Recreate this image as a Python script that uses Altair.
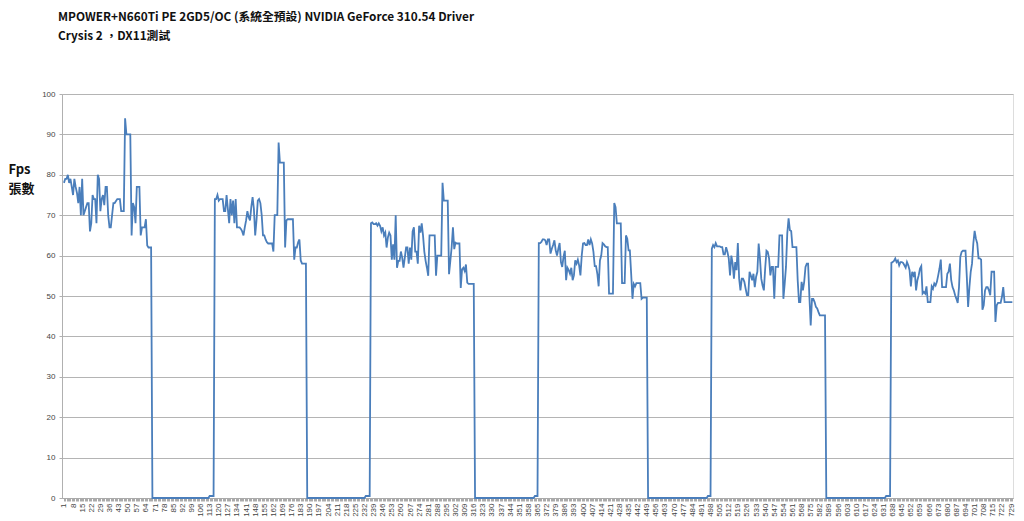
import altair as alt
import pandas as pd

title_lines = ["MPOWER+N660Ti PE 2GD5/OC (系統全預設) NVIDIA GeForce 310.54 Driver",
               "Crysis 2 ，DX11測試"]
y_title = ["Fps", "張數"]

seg_a = [78, 79, 79, 80, 78, 79, 77, 75, 79, 77, 75.5, 73, 77, 70, 79, 70, 71, 72, 73, 73,
         66, 68, 75, 74, 74, 68, 80, 79, 71, 74, 75, 72.5, 77, 77, 70, 67, 67, 70, 73, 73,
         73.5, 74, 74, 74, 71, 71, 71, 94, 90, 90, 90, 90, 65, 73, 72, 68, 77, 77, 77, 65,
         67, 67, 67, 69, 62.5, 62, 62, 62]
gap_1 = [0, 0, 0, 0, 0, 0, 0, 0, 0, 0, 0, 0, 0, 0, 0, 0, 0, 0, 0, 0, 0, 0,
         0, 0, 0, 0, 0, 0, 0, 0, 0, 0, 0, 0, 0, 0, 0, 0, 0, 0, 0, 0, 0, 0,
         0.5, 0.5, 0.5, 0.5]
seg_b = [74, 74, 75, 73.6, 74, 74, 74, 71, 71, 75, 71.5, 68, 74, 70, 73.6, 68, 74, 67, 67, 67,
         66.6, 66, 65, 67, 68.7, 71, 69.5, 68.7, 72, 74.5, 71.6, 65, 68.7, 73.6, 74, 73, 70, 65,
         65, 64, 63.3, 63, 63, 63, 63, 61, 70, 70, 70, 88, 83, 83, 83, 83, 62, 68.7, 69, 69, 69,
         69, 69, 59, 62, 62, 63.3, 64, 58.8, 58, 58, 58, 58]
gap_2 = [0, 0, 0, 0, 0, 0, 0, 0, 0, 0, 0, 0, 0, 0, 0, 0, 0, 0, 0, 0, 0, 0, 0,
         0, 0, 0, 0, 0, 0, 0, 0, 0, 0, 0, 0, 0, 0, 0, 0, 0, 0, 0, 0, 0, 0,
         0.5, 0.5, 0.5, 0.5]
seg_c = [68, 68.2, 67.8, 67.8, 68, 67.4, 68, 67.4, 66, 67, 65, 65.7, 62, 64.5, 65.7, 65, 59,
         62.8, 59, 70, 57, 58.7, 58.7, 61, 59.5, 57, 59.5, 62, 62, 58, 62, 59, 66, 67, 61, 61,
         58, 67.4, 65.7, 68, 65, 61, 58.7, 57, 55, 65, 65, 65, 65, 65, 55, 60, 60, 60, 60, 78,
         73.6, 73.6, 73.6, 73.6, 55.4, 58.7, 62, 67, 61.6, 63.2, 63, 63, 63, 52, 56.6, 57,
         56.2, 57.8, 53.3, 53, 53, 53, 53, 53]
gap_3 = [0, 0, 0, 0, 0, 0, 0, 0, 0, 0, 0, 0, 0, 0, 0, 0, 0, 0, 0, 0, 0, 0, 0,
         0, 0, 0, 0, 0, 0, 0, 0, 0, 0, 0, 0, 0, 0, 0, 0, 0, 0, 0, 0, 0, 0, 0,
         0.5, 0.5, 0.5]
seg_d = [63.1, 63.1, 63.4, 64, 64, 63.8, 62.6, 64, 64, 60.5, 61.7, 62.6, 63.8, 61.3, 60, 61.7,
         63.1, 58.4, 57.2, 59.7, 61.2, 53.9, 57, 56.4, 55.5, 57, 53.9, 55.1, 58.8, 58, 59, 57.6,
         55.1, 60, 63, 63.1, 62.6, 62.6, 64, 62.6, 64, 63, 60.9, 57.4, 57.4, 55.5, 52.4, 58.8,
         60, 63.1, 62.8, 62.3, 62.1, 62.1, 50.6, 50.6, 50.6, 50.6, 73, 72, 68, 68, 68, 68, 53.2,
         53.2, 53.2, 65, 64.2, 61.3, 61.3, 55.5, 49.3, 53, 52.4, 53.2, 53.2, 53.2, 53.2, 49.3,
         49.6, 49.6, 49.6, 49.6]
gap_4 = [0, 0, 0, 0, 0, 0, 0, 0, 0, 0, 0, 0, 0, 0, 0, 0, 0, 0, 0, 0, 0, 0, 0,
         0, 0, 0, 0, 0, 0, 0, 0, 0, 0, 0, 0, 0, 0, 0, 0, 0, 0, 0, 0, 0, 0, 0,
         0.5, 0.5, 0.5]
seg_e = [61.7, 62.6, 62.1, 63.1, 62.3, 62.3, 62.3, 62.1, 62.1, 60.3, 60.3, 62.1, 60.9, 59.3,
         55.1, 60, 58, 54.3, 58.4, 56.4, 63.1, 54.3, 51.4, 54.3, 54.3, 53.5, 51.8, 50.2, 50.2,
         56, 55.1, 53.9, 55.5, 52.2, 54.7, 56, 63, 59.3, 54.3, 52.6, 51.4, 56.8, 61.2, 60.9,
         59.3, 55.1, 57.2, 57.2, 49.3, 57.2, 57.2, 57.2, 65, 65, 65, 49.3, 53, 57.2, 65.5, 69.2,
         66.3, 66.1, 62.1, 62.1, 62.1, 62.1, 53.9, 48.5, 48.5, 53.5, 51.4, 53.5, 57.2, 58, 58,
         49.8, 42.7, 49.3, 49.3, 48.5, 47.3, 46.9, 46, 45.2, 45.2, 45.2, 45.2, 45.2]
gap_5 = [0, 0, 0, 0, 0, 0, 0, 0, 0, 0, 0, 0, 0, 0, 0, 0, 0, 0, 0, 0, 0, 0, 0,
         0, 0, 0, 0, 0, 0, 0, 0, 0, 0, 0, 0, 0, 0, 0, 0, 0, 0, 0, 0, 0, 0, 0,
         0.5, 0.5, 0.5, 0.5]
seg_f = [58.2, 58.4, 58.7, 59.3, 58.4, 58.8, 57.6, 58.4, 58.4, 58.2, 57.6, 57, 58.4, 57.6, 56.4,
         52.4, 56, 55.1, 56, 51.4, 53.9, 55.1, 56.8, 57.4, 50.6, 51, 50.6, 52.4, 48.5, 48.5,
         48.5, 52.4, 51.8, 53.1, 52.6, 53.5, 55.1, 56.8, 59, 52.2, 52.2, 52.2, 52.2, 55.5, 56,
         58, 53.9, 52.2, 51.4, 50.2, 49.3, 48.3, 52.2, 59.7, 60.9, 61.2, 61.2, 61.2, 54.7, 47.3,
         52.2, 56, 58, 63, 66.1, 64.2, 63, 59.3, 59.3, 59, 46.6, 47.7, 51.4, 52.2, 52.2, 51.4,
         50.2, 56, 56, 56, 43.6, 47.7, 48.3, 48.3, 48.3, 49.8, 52.2, 48.5, 48.5, 48.5, 48.5,
         48.5, 48.5, 48.5]

y_ticks = [0, 10, 20, 30, 40, 50, 60, 70, 80, 90, 100]

fps = seg_a + gap_1 + seg_b + gap_2 + seg_c + gap_3 + seg_d + gap_4 + seg_e + gap_5 + seg_f
frames = list(range(1, len(fps) + 1))
df = pd.DataFrame({"frame": frames, "fps": fps})

label_font = "Liberation Sans"
cjk_font = "Noto Sans CJK TC"

chart = alt.Chart(df).mark_line(color="#4A7EBB", strokeWidth=1.8).encode(
    x=alt.X("frame:Q",
            scale=alt.Scale(domain=[-0.5, len(fps) + 0.5], nice=False, zero=False),
            axis=alt.Axis(values=frames, title=None, grid=False,
                          labelExpr="(datum.value - 1) % 7 == 0 ? datum.label : ''",
                          format="d", labelAngle=270, labelAlign="right",
                          labelBaseline="middle", labelFontSize=8, labelColor="#444",
                          labelFont=label_font, labelOverlap=False, labelFlush=False,
                          labelPadding=2, tickSize=3, tickColor="#aaa",
                          domainColor="#aaa", domainWidth=1)),
    y=alt.Y("fps:Q",
            scale=alt.Scale(domain=[0, 100], nice=False),
            axis=alt.Axis(values=y_ticks, title=y_title, titleAngle=0,
                          titleAlign="left", titleBaseline="top",
                          titleX=-54, titleY=69, titleFont=cjk_font,
                          titleFontSize=13, titleFontWeight="bold", titleColor="#111",
                          titleLineHeight=19,
                          labelFontSize=8, labelColor="#444", labelFont=label_font,
                          labelPadding=4, tickSize=3, tickColor="#b0b0b0",
                          gridColor="#b4b4b4", gridWidth=1,
                          domainColor="#b0b0b0"))
).properties(
    width=951,
    height=404,
    title=alt.Title(text=title_lines, anchor="start", frame="group", dx=-4,
                    offset=47, font=cjk_font, fontSize=11.8, fontWeight="bold",
                    color="#111", lineHeight=19),
    autosize=alt.AutoSizeParams(type="none"),
    padding={"left": 54, "top": 86, "right": 3, "bottom": 21},
).configure_view(stroke=None).configure(background="white")

chart.save("out.html", embed_options={"renderer": "svg", "actions": False})
